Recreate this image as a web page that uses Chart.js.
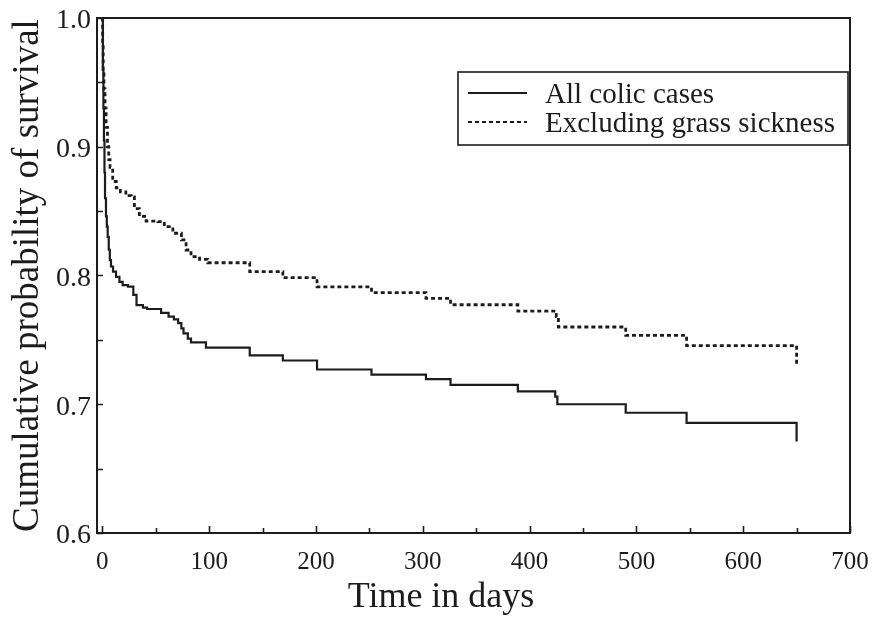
<!DOCTYPE html>
<html>
<head>
<meta charset="utf-8">
<script src="https://cdn.jsdelivr.net/npm/chart.js@4.4.1/dist/chart.umd.min.js"></script>
<style>
  html, body { margin: 0; padding: 0; background: #ffffff; }
  #wrap { width: 875px; height: 621px; }
</style>
</head>
<body>
<div id="wrap"><canvas id="survival" width="875" height="621"></canvas></div>
<script>
// Kaplan-Meier survival estimates: day of each step and survival after it
const allColicDays = [0, 0.5, 1, 1.5, 2, 2.5, 3.4, 4.2, 5, 6, 7, 8.1, 10, 12.8, 16, 19, 24,
  29, 32, 38, 42, 55, 62, 67, 71, 74, 76, 80, 83, 97, 138, 169, 201, 252, 303, 326, 389, 424, 426,
  490, 547, 650];
const allColicSurvival = [1.0, 0.96, 0.93, 0.905, 0.88, 0.86, 0.846, 0.838, 0.83, 0.82, 0.812,
  0.807, 0.803, 0.799, 0.795, 0.7926, 0.7913, 0.785, 0.777, 0.775, 0.774, 0.771, 0.768, 0.766,
  0.763, 0.759, 0.755, 0.751, 0.748, 0.744, 0.738, 0.734, 0.727, 0.723, 0.7195, 0.715, 0.710,
  0.706, 0.700, 0.6934, 0.6855, 0.6711];

const exclGrassDays = [0, 0.3, 0.8, 1.5, 2.5, 3.5, 4.8, 6, 7.2, 9.7, 13, 16.9, 22, 27, 30, 34.7,
  41, 52, 58, 66, 74, 78.4, 83, 91, 98.7, 138, 169, 201, 252, 303, 326, 389, 425, 427, 490, 547, 650];
const exclGrassSurvival = [1.0, 0.98, 0.96, 0.945, 0.93, 0.915, 0.9, 0.89, 0.884, 0.873, 0.868,
  0.865, 0.862, 0.861, 0.852, 0.846, 0.8423, 0.8418, 0.8379, 0.8328, 0.8276, 0.8198, 0.8146,
  0.8126, 0.8099, 0.803, 0.7983, 0.7911, 0.7867, 0.7823, 0.7773, 0.7724, 0.768, 0.760, 0.7535,
  0.7456, 0.7313];

const seriesLabels = ['All colic cases', 'Excluding grass sickness'];
const xTickValues = [0, 100, 200, 300, 400, 500, 600, 700];
const xMinorValues = [50, 150, 250, 350, 450, 550, 650];
const yTickValues = [0.6, 0.7, 0.8, 0.9, 1.0];
const yMinorValues = [0.65, 0.75, 0.85, 0.95];
const xAxisTitle = 'Time in days';
const yAxisTitle = 'Cumulative probability of survival';

const INK = '#1c1c1c';
const SERIF = '"Liberation Serif", "DejaVu Serif", serif';

const toPoints = (xs, ys) => xs.map((x, i) => ({ x: x, y: ys[i] }));

// Frame around the plotting area plus inward-pointing tick marks
const framePlugin = {
  id: 'frameTicks',
  afterDatasetsDraw(chart) {
    const { ctx, chartArea: a, scales } = chart;
    ctx.save();
    ctx.strokeStyle = INK;
    ctx.lineWidth = 2;
    ctx.strokeRect(a.left, a.top, a.right - a.left, a.bottom - a.top);
    ctx.lineWidth = 1.6;
    ctx.beginPath();
    xTickValues.concat(xMinorValues).forEach(v => {
      const px = Math.round(scales.x.getPixelForValue(v)) + 0.5;
      const len = xTickValues.includes(v) ? 7 : 5;
      ctx.moveTo(px, a.bottom);
      ctx.lineTo(px, a.bottom - len);
    });
    yTickValues.concat(yMinorValues).forEach(v => {
      const py = Math.round(scales.y.getPixelForValue(v)) + 0.5;
      ctx.moveTo(a.left, py);
      ctx.lineTo(a.left + 6, py);
    });
    ctx.stroke();
    ctx.restore();
  }
};

// Boxed legend in the upper right of the plot, plus the horizontal axis caption
const legendPlugin = {
  id: 'boxedLegend',
  afterDraw(chart) {
    const { ctx, chartArea: a } = chart;
    const boxRight = a.right - 2;
    const boxLeft = boxRight - 390;
    const boxTop = a.top + 54;
    const boxH = 73;
    ctx.save();
    ctx.strokeStyle = INK;
    ctx.lineWidth = 1.6;
    ctx.strokeRect(boxLeft, boxTop, boxRight - boxLeft, boxH);
    ctx.font = '29px ' + SERIF;
    ctx.fillStyle = INK;
    ctx.textBaseline = 'alphabetic';
    chart.data.datasets.forEach((ds, i) => {
      const yLine = boxTop + 21 + i * 29;
      ctx.beginPath();
      ctx.lineWidth = 2;
      ctx.setLineDash(ds.borderDash || []);
      ctx.moveTo(boxLeft + 10, yLine);
      ctx.lineTo(boxLeft + 69, yLine);
      ctx.stroke();
      ctx.setLineDash([]);
      ctx.fillText(ds.label, boxLeft + 87, yLine + 10);
    });
    ctx.font = '36px ' + SERIF;
    ctx.textAlign = 'center';
    ctx.fillText(xAxisTitle, 441, 607);
    ctx.restore();
  }
};

new Chart(document.getElementById('survival'), {
  type: 'line',
  data: {
    datasets: [
      {
        label: seriesLabels[0],
        data: toPoints(allColicDays, allColicSurvival),
        borderColor: INK,
        borderWidth: 2.2,
        pointRadius: 0,
        stepped: 'before',
        fill: false
      },
      {
        label: seriesLabels[1],
        data: toPoints(exclGrassDays, exclGrassSurvival),
        borderColor: INK,
        borderWidth: 2.8,
        borderDash: [4, 3],
        pointRadius: 0,
        stepped: 'before',
        fill: false
      }
    ]
  },
  options: {
    responsive: false,
    animation: false,
    devicePixelRatio: 1,
    layout: { padding: { top: 18, right: 25, bottom: 0, left: 0 } },
    plugins: {
      legend: { display: false },
      tooltip: { enabled: false }
    },
    scales: {
      x: {
        type: 'linear',
        min: -5,
        max: 700,
        afterBuildTicks: s => { s.ticks = xTickValues.map(v => ({ value: v })); },
        afterFit: s => { s.height = 88; s.paddingLeft = 0; s.paddingRight = 0; },
        grid: { display: false, drawTicks: false },
        border: { display: false },
        ticks: {
          font: { family: SERIF, size: 25 },
          color: INK,
          padding: 14,
          maxRotation: 0,
          autoSkip: false,
          callback: v => String(v)
        }
      },
      y: {
        type: 'linear',
        min: 0.6,
        max: 1.0,
        afterBuildTicks: s => { s.ticks = yTickValues.map(v => ({ value: v })); },
        afterFit: s => { s.width = 97; s.paddingTop = 0; s.paddingBottom = 0; },
        grid: { display: false, drawTicks: false },
        border: { display: false },
        title: {
          display: true,
          text: yAxisTitle,
          font: { family: SERIF, size: 37 },
          color: INK,
          padding: { top: 6, bottom: 0 }
        },
        ticks: {
          font: { family: SERIF, size: 28 },
          color: INK,
          padding: 6,
          labelOffset: 3,
          callback: v => Number(v).toFixed(1)
        }
      }
    }
  },
  plugins: [framePlugin, legendPlugin]
});
</script>
</body>
</html>
